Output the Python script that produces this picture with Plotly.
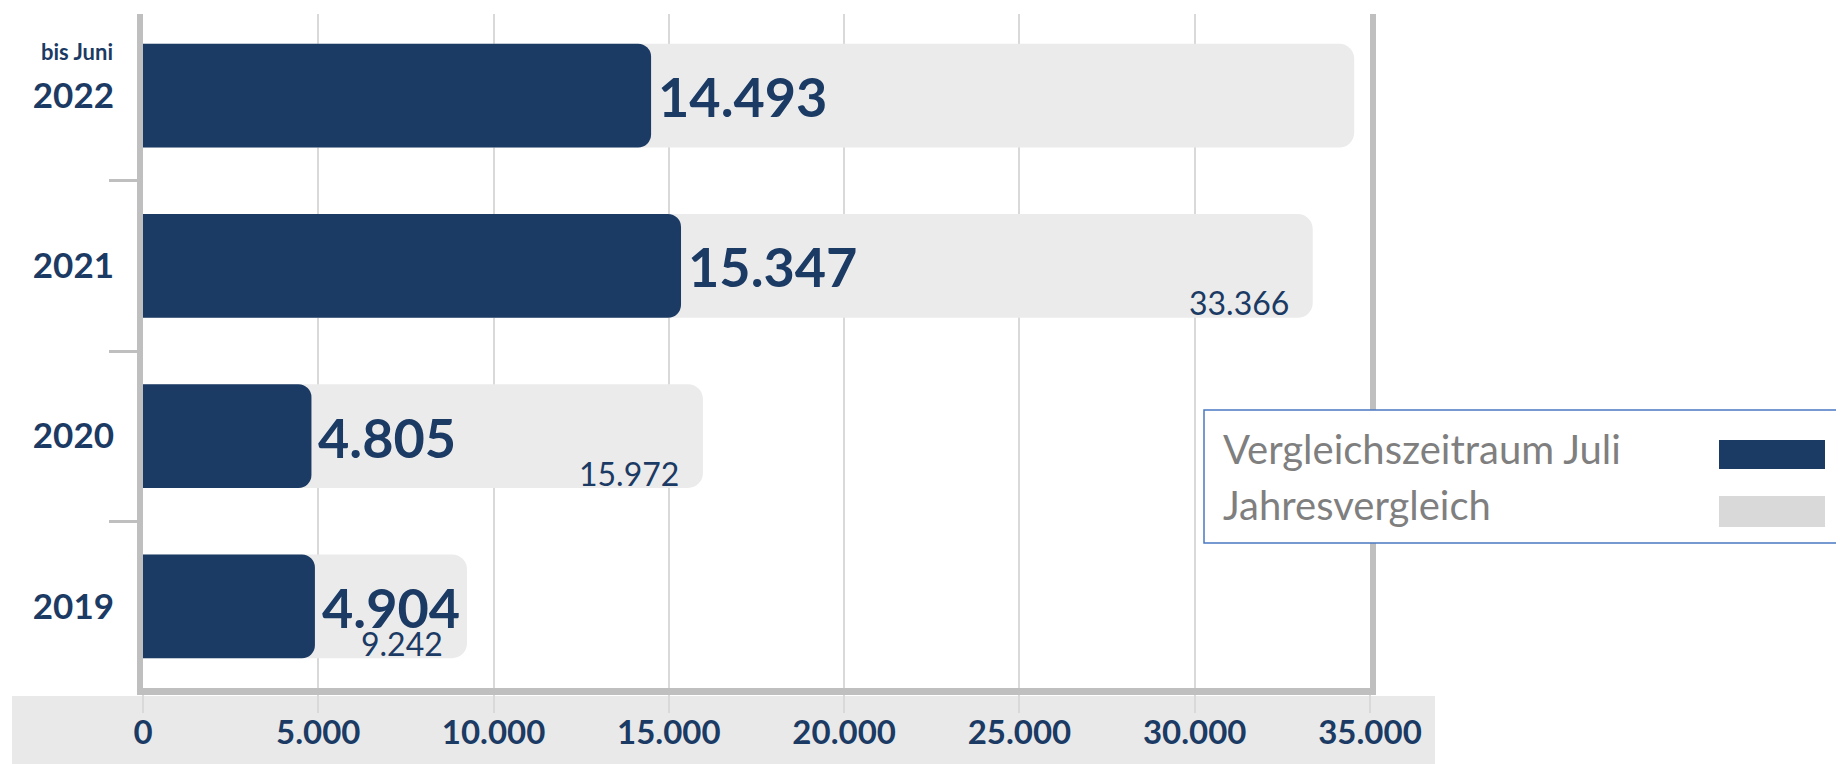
import plotly.graph_objects as go

# ---- data ----
years = ["2019", "2020", "2021", "2022"]
juli_values = [4904, 4805, 15347, 14493]          # Vergleichszeitraum Juli (navy)
jahr_values = [9242, 15972, 33366, 34550]         # Jahresvergleich (gray); 2022 unlabelled, estimated
jahr_labels = ["9.242", "15.972", "33.366", ""]
x_ticks = [0, 5000, 10000, 15000, 20000, 25000, 30000, 35000]

NAVY = "#1b3a64"
BAR_GRAY = "#ebebeb"
AXIS_GRAY = "#bfbfbf"
GRID = "#d9d9d9"
FONT = "Lato"

OFF = 8  # default page body margin
W, H = 1844 - OFF, 764 - OFF
ML, MR, MT, MB = 143 - OFF, 474, 14 - OFF, 76
PW, PH = W - ML - MR, H - MT - MB


def px(x):
    """screen pixel x -> paper x"""
    return (x - OFF - ML) / PW


def py(y):
    """screen pixel y -> paper y"""
    return (H - MB - (y - OFF)) / PH


def de(v):
    return f"{v:,}".replace(",", ".")


fig = go.Figure()
fig.add_trace(go.Bar(
    y=years, x=jahr_values, orientation="h", name="Jahresvergleich",
    marker=dict(color=BAR_GRAY, cornerradius=15, line=dict(width=0)),
    width=0.61, hoverinfo="x", yaxis="y",
))
fig.add_trace(go.Bar(
    y=years, x=juli_values, orientation="h", name="Vergleichszeitraum Juli",
    marker=dict(color=NAVY, cornerradius=13, line=dict(width=0)),
    width=0.61, hoverinfo="x", yaxis="y2",
))

annotations = []
for i, v in enumerate(juli_values):
    annotations.append(dict(
        x=v, y=i, xref="x", yref="y", text=f"<b>{de(v)}</b>", showarrow=False,
        xanchor="left", yanchor="middle", xshift=5, yshift=-1,
        font=dict(family=FONT, size=54, color=NAVY),
    ))
for i, (v, lab) in enumerate(zip(jahr_values, jahr_labels)):
    if lab:
        annotations.append(dict(
            x=v, y=i, xref="x", yref="y", text=lab, showarrow=False,
            xanchor="right", yanchor="middle", xshift=-22, yshift=-37,
            font=dict(family=FONT, size=32, color=NAVY),
        ))
# "bis Juni" above 2022 label
annotations.append(dict(
    x=0, y=years.index("2022"), xref="paper", yref="y", text="<b>bis Juni</b>", showarrow=False,
    xanchor="right", yanchor="middle", xshift=-28, yshift=44,
    font=dict(family=FONT, size=22, color=NAVY),
))
# custom legend texts
annotations.append(dict(
    x=px(1221), y=py(449), xref="paper", yref="paper", text="Vergleichszeitraum Juli",
    showarrow=False, xanchor="left", yanchor="middle",
    font=dict(family=FONT, size=40, color="#7f7f7f"),
))
annotations.append(dict(
    x=px(1221), y=py(505), xref="paper", yref="paper", text="Jahresvergleich",
    showarrow=False, xanchor="left", yanchor="middle",
    font=dict(family=FONT, size=40, color="#7f7f7f"),
))

shapes = [
    # gray band behind x tick labels
    dict(type="rect", xref="paper", yref="paper", x0=px(12), x1=px(1435), y0=py(696), y1=py(770),
         fillcolor="#e9e9e9", line=dict(width=0), layer="below"),
    # legend box
    dict(type="rect", xref="paper", yref="paper", x0=px(1204), x1=px(1850), y0=py(410), y1=py(543),
         fillcolor="rgba(255,255,255,1)", line=dict(color="#4a78c2", width=1.5), layer="above"),
    dict(type="rect", xref="paper", yref="paper", x0=px(1719), x1=px(1825), y0=py(440), y1=py(469),
         fillcolor=NAVY, line=dict(width=0), layer="above"),
    dict(type="rect", xref="paper", yref="paper", x0=px(1719), x1=px(1825), y0=py(496), y1=py(527),
         fillcolor="#d9d9d9", line=dict(width=0), layer="above"),
]

yrange = [-0.48, 3.48]
fig.update_layout(
    width=W, height=H,
    margin=dict(l=ML, r=MR, t=MT, b=MB, pad=0, autoexpand=False),
    paper_bgcolor="white", plot_bgcolor="white",
    barmode="overlay", showlegend=False,
    separators=",.",
    font=dict(family=FONT, color=NAVY),
    annotations=annotations, shapes=shapes,
    xaxis=dict(
        range=[0, 35000], tickvals=x_ticks, tickformat=",d",
        showgrid=True, gridcolor=GRID, gridwidth=1.5, zeroline=False,
        showline=True, linecolor=AXIS_GRAY, linewidth=7, mirror=False,
        ticks="outside", ticklen=18, tickcolor=GRID, tickwidth=1.5,
        ticklabelstandoff=-9,
        tickfont=dict(family=FONT, size=33, color=NAVY, weight="bold"),
        fixedrange=True, automargin=False,
    ),
    yaxis=dict(
        type="category", categoryorder="array", categoryarray=years, range=yrange,
        showgrid=False, zeroline=False,
        showline=True, linecolor=AXIS_GRAY, linewidth=6, mirror=True,
        ticks="outside", tickson="boundaries", ticklen=28, tickcolor=AXIS_GRAY, tickwidth=3,
        ticklabelstandoff=16,
        tickfont=dict(family=FONT, size=35, color=NAVY, weight="bold"),
        fixedrange=True, automargin=False,
    ),
    yaxis2=dict(
        type="category", categoryorder="array", categoryarray=years, range=yrange,
        overlaying="y", matches="y", visible=False, showgrid=False, zeroline=False,
        fixedrange=True,
    ),
)

fig.write_html("out.html")
